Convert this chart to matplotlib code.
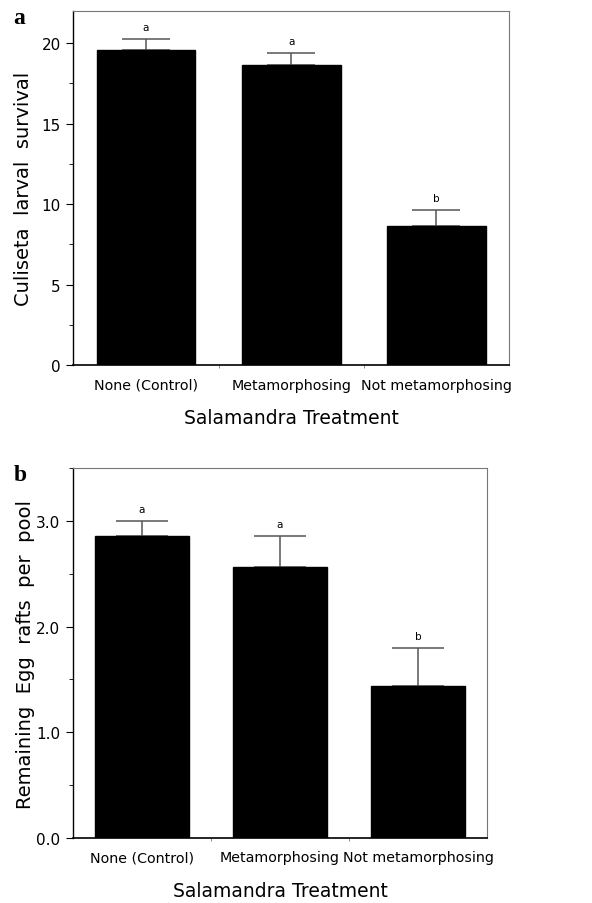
import matplotlib.pyplot as plt
from matplotlib.ticker import MultipleLocator

# data
treatments = ['None (Control)', 'Metamorphosing', 'Not metamorphosing']
survival = [19.6, 18.63, 8.63]
survival_err = [0.67, 0.75, 1.0]
survival_groups = ['a', 'a', 'b']
rafts = [2.857, 2.566, 1.433]
rafts_err = [0.143, 0.294, 0.363]
rafts_groups = ['a', 'a', 'b']

plt.rcParams['font.family'] = 'DejaVu Sans'

fig = plt.figure(figsize=(5.92, 9.04), dpi=100)
ax1 = fig.add_axes([0.1238, 0.5951, 0.736, 0.3916])
ax2 = fig.add_axes([0.1228, 0.0722, 0.7003, 0.4086])


def draw_panel(ax, vals, errs, groups, ymax, major, minor, fmt, ylabel, capsize, labx):
    x = list(range(len(vals)))
    ax.bar(x, vals, width=0.68, color='black', edgecolor='black', zorder=2)
    ax.errorbar(x, vals, yerr=[[0] * len(vals), errs], fmt='none',
                ecolor='#555555', elinewidth=1.1, capsize=capsize, capthick=1.1, zorder=1)
    for xi, v, e, g in zip(x, vals, errs, groups):
        ax.annotate(g, (xi, v + e), xytext=(0, 5), textcoords='offset points',
                    ha='center', va='bottom', fontsize=7.5)
    ax.set_xlim(-0.5, len(vals) - 0.5)
    ax.set_ylim(0, ymax)
    ax.yaxis.set_major_locator(MultipleLocator(major))
    ax.yaxis.set_minor_locator(MultipleLocator(minor))
    ax.yaxis.set_major_formatter(fmt)
    ax.set_xticks(x)
    ax.set_xticklabels(treatments, fontsize=10.3)
    ax.set_xticks([0.5, 1.5], minor=True)
    ax.tick_params(axis='x', which='major', length=0, pad=9)
    ax.tick_params(axis='x', which='minor', length=2, color='#777777')
    ax.tick_params(axis='y', which='major', length=5, labelsize=11, pad=4)
    ax.tick_params(axis='y', which='minor', length=3)
    ax.set_ylabel(ylabel, fontsize=14)
    ax.yaxis.set_label_coords(labx, 0.5)
    ax.set_xlabel('Salamandra Treatment', fontsize=13.5, labelpad=12)
    ax.spines['left'].set_linewidth(1.0)
    ax.spines['bottom'].set_linewidth(1.2)
    for s in ['top', 'right']:
        ax.spines[s].set_color('#777777')
        ax.spines[s].set_linewidth(0.8)


draw_panel(ax1, survival, survival_err, survival_groups, 22, 5, 2.5,
           '{x:.0f}', 'Culiseta  larval  survival', 17.4, -0.093)
draw_panel(ax2, rafts, rafts_err, rafts_groups, 3.5, 1.0, 0.5,
           '{x:.1f}', 'Remaining  Egg  rafts  per  pool', 18.7, -0.091)

fig.text(0.032, 0.98, 'a', fontsize=17, fontweight='bold', family='Liberation Serif',
         ha='center', va='center')
fig.text(0.034, 0.474, 'b', fontsize=17, fontweight='bold', family='Liberation Serif',
         ha='center', va='center')

fig.savefig('out.png', dpi=100)
